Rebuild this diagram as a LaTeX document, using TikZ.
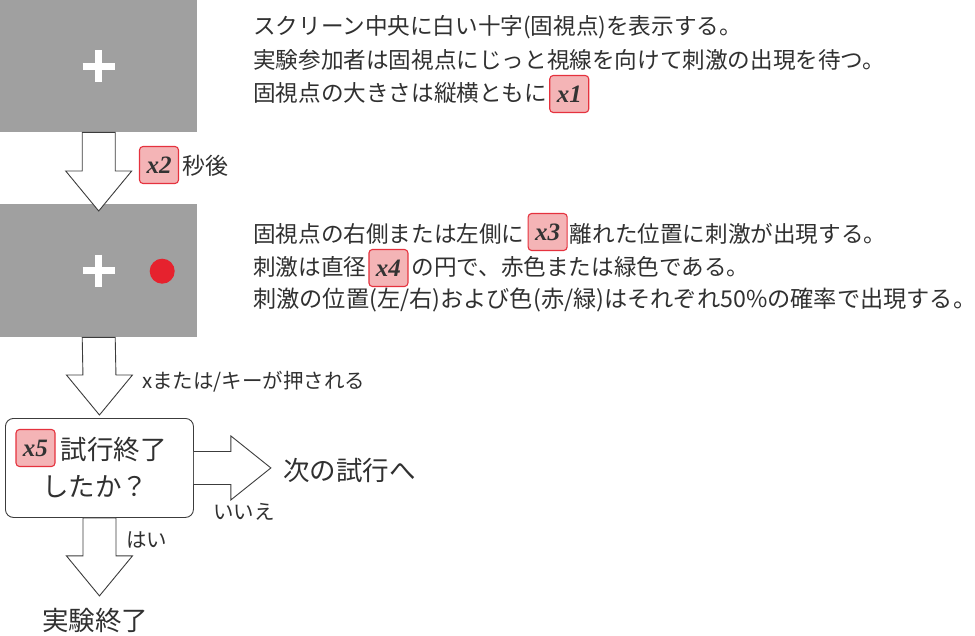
\documentclass[tikz,border=0pt]{standalone}
\usepackage{fontspec}
\setmainfont{Noto Sans CJK JP}
\newfontfamily\badgefont{Liberation Serif}
\usetikzlibrary{calc}
\definecolor{scrgray}{HTML}{A0A0A0}
\definecolor{dotred}{HTML}{E6222E}
\definecolor{badgepink}{HTML}{F4B4B6}
\definecolor{badgered}{HTML}{E5323E}
\definecolor{badgetext}{HTML}{333333}
\definecolor{linegray}{HTML}{3C3C3C}
\definecolor{txt}{HTML}{303030}
\tikzset{
 screen/.style={fill=scrgray, draw=none, inner sep=0, anchor=north west},
 fixcross/.style={draw=white, line width=7pt},
 blockarrow/.style={draw=linegray, fill=white, line width=0.9pt, line join=miter},
 badge/.style={draw=badgered, fill=badgepink, rounded corners=3.5pt, line width=1.1pt, text=badgetext, inner sep=0, minimum width=39pt, minimum height=37pt, font=\badgefont\bfseries\itshape\fontsize{25}{25}\selectfont},
 jtext/.style={inner sep=0, anchor=west, text=txt, font=\fontsize{22.6}{26}\selectfont},
 jsmall/.style={jtext, font=\fontsize{20.5}{24}\selectfont},
 jmid/.style={jtext, font=\fontsize{23}{26}\selectfont},
 jbig/.style={jtext, font=\fontsize{26.5}{30}\selectfont},
 decision/.style={draw=linegray, fill=white, rounded corners=8pt, line width=0.9pt, anchor=north west, inner sep=0, minimum width=188pt, minimum height=99pt},
}
\newcommand\blockdown[2]{%
 \draw[blockarrow] ($(#1)+(-16.5,0)$) -- ($(#2)+(-16.5,-40)$) -- ($(#2)+(-33,-40)$) -- (#2) -- ($(#2)+(33,-40)$) -- ($(#2)+(16.5,-40)$) -- ($(#1)+(16.5,0)$) -- cycle;}
\begin{document}
\begin{tikzpicture}[x=1pt,y=-1pt]
\useasboundingbox (0,0) rectangle (975,636);
% screens
\node[screen, minimum width=197pt, minimum height=132pt] (s1) at (0,0) {};
\draw[fixcross] ($(s1.center)+(-16,0)$) -- ($(s1.center)+(16,0)$);
\draw[fixcross] ($(s1.center)+(0,-16)$) -- ($(s1.center)+(0,16)$);
\node[screen, minimum width=197pt, minimum height=133pt] (s2) at (0,204) {};
\draw[fixcross] ($(s2.center)+(-16,0)$) -- ($(s2.center)+(16,0)$);
\draw[fixcross] ($(s2.center)+(0,-16)$) -- ($(s2.center)+(0,16)$);
\fill[dotred] ($(s2.center)+(63.5,0.5)$) circle (12.5);
% decision
\node[decision] (dec) at (5,418) {};
\node[badge] (x5) at ($(dec.north west)+(30.5,30)$) {x5};
\node[jbig] (d1) at ($(x5.east)+(5,1)$) {試行終了};
\node[jbig, anchor=center] (d2) at ($(dec.north west)+(90,69)$) {したか？};
% outcome texts
\node[jbig] (next) at (283,470) {次の試行へ};
\node[jbig] (endt) at (42,620) {実験終了};
\node[jsmall] (no) at (213,512) {いいえ};
\node[jsmall] (yes) at (126,540) {はい};
% arrows
\coordinate (a1tip) at ($(s2.north)+(0,7)$);
\blockdown{s1.south}{a1tip}
\coordinate (a2tip) at ($(dec.north)+(0,-3)$);
\blockdown{s2.south}{a2tip}
\coordinate (a3tip) at ($(dec.south)+(0,78)$);
\blockdown{dec.south}{a3tip}
\coordinate (a4tip) at ($(dec.east)+(77,0)$);
\draw[blockarrow] ($(dec.east)+(0,-16.5)$) -- ($(a4tip)+(-40,-16.5)$) -- ($(a4tip)+(-40,-32)$) -- (a4tip) -- ($(a4tip)+(-40,32)$) -- ($(a4tip)+(-40,16.5)$) -- ($(dec.east)+(0,16.5)$);
% arrow labels
\node[badge] (x2) at (159,165) {x2};
\node[jmid] (sec) at ($(x2.east)+(3,1)$) {秒後};
\node[jsmall] (key) at (142,382) {xまたは/キーが押される};
% block 1 text
\node[jtext] (t11) at (253,27) {スクリーン中央に白い十字(固視点)を表示する。};
\node[jtext] (t12) at (253,60) {実験参加者は固視点にじっと視線を向けて刺激の出現を待つ。};
\node[jtext] (t13) at (253,93) {固視点の大きさは縦横ともに};
\node[badge, anchor=west] (x1) at ($(t13.east)+(2,1)$) {x1};
% block 2 text
\node[jtext] (t21) at (253,234) {固視点の右側または左側に};
\node[badge, anchor=west] (x3) at ($(t21.east)+(3,-2)$) {x3};
\node[jtext] (t21b) at ($(x3.east)+(2,2)$) {離れた位置に刺激が出現する。};
\node[jtext] (t22) at (253,267) {刺激は直径};
\node[badge, anchor=west] (x4) at ($(t22.east)+(2,1)$) {x4};
\node[jtext] (t22b) at ($(x4.east)+(3,-1)$) {の円で、赤色または緑色である。};
\node[jtext, font=\fontsize{23.2}{26}\selectfont] (t23) at (253,300) {刺激の位置(左/右)および色(赤/緑)はそれぞれ50\%の確率で出現する。};
\end{tikzpicture}
\end{document}
